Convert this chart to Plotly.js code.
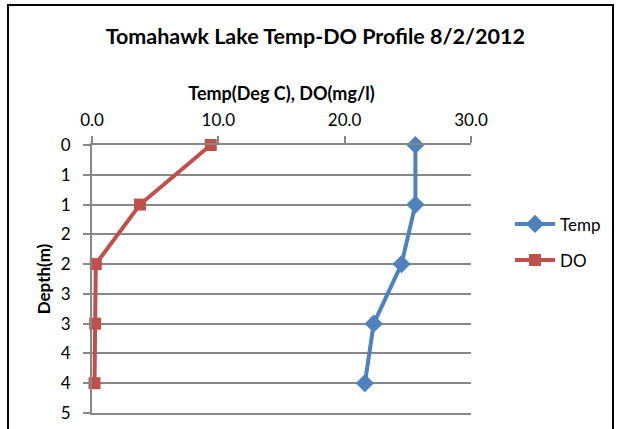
<!DOCTYPE html>
<html>
<head>
<meta charset="utf-8">
<script src="https://cdn.plot.ly/plotly-3.0.1.min.js"></script>
<style>
html,body{margin:0;padding:0;background:#fff;overflow:hidden;}
#wrap{position:relative;width:617px;height:429px;}
#chart{position:absolute;left:0;top:0;width:617px;height:429px;}
#frame{position:absolute;left:7px;top:4px;width:603px;height:440px;border:2px solid #000;pointer-events:none;}
</style>
</head>
<body>
<div id="wrap"><div id="chart"></div><div id="frame"></div></div>
<script>
const depth = [0, 1, 2, 3, 4];
const temp = [25.6, 25.6, 24.5, 22.3, 21.6];
const dissolvedO2 = [9.4, 3.8, 0.3, 0.25, 0.2];
const yTickVals = [0, 0.5, 1, 1.5, 2, 2.5, 3, 3.5, 4, 4.5];
const yTickText = ['0', '1', '1', '2', '2', '3', '3', '4', '4', '5'];
const xTickVals = [0, 10, 20, 30];
const xTickText = ['0.0', '10.0', '20.0', '30.0'];

const FONT = 'Lato, "Open Sans", sans-serif';
const GRID = '#878787';

const traces = [
  {
    x: temp, y: depth, name: 'Temp', type: 'scatter', mode: 'lines+markers',
    legendgroup: 'a', cliponaxis: false,
    line: {color: '#4F81BD', width: 4},
    marker: {symbol: 'diamond', size: 14, color: '#4F81BD'}
  },
  {
    x: dissolvedO2, y: depth, name: 'DO', type: 'scatter', mode: 'lines+markers',
    legendgroup: 'b', cliponaxis: false,
    line: {color: '#C0504D', width: 4},
    marker: {symbol: 'square', size: 12, color: '#C0504D'}
  }
];

const layout = {
  width: 617, height: 429,
  margin: {l: 92, r: 145, t: 145, b: 16, pad: 0},
  paper_bgcolor: '#fff', plot_bgcolor: '#fff',
  font: {family: FONT, color: '#000', size: 17},
  title: {
    text: '<b>Tomahawk Lake Temp-DO Profile 8/2/2012</b>',
    font: {family: FONT, size: 21.5, color: '#000'},
    x: 0.511, xanchor: 'center', xref: 'container',
    y: 0.914, yanchor: 'middle', yref: 'container'
  },
  xaxis: {
    side: 'top', range: [0, 30], tickvals: xTickVals, ticktext: xTickText,
    showgrid: false, zeroline: false,
    showline: true, mirror: true, linecolor: GRID, linewidth: 2,
    ticks: 'outside', ticklen: 7, tickwidth: 2, tickcolor: GRID,
    ticklabelstandoff: 3,
    tickfont: {family: FONT, size: 17, color: '#000'},
    title: {text: '<b>Temp(Deg C), DO(mg/l)</b>', font: {family: FONT, size: 18, color: '#000'}, standoff: 4},
    fixedrange: true
  },
  yaxis: {
    range: [4.5, 0], tickvals: yTickVals, ticktext: yTickText,
    showgrid: true, gridcolor: GRID, gridwidth: 2,
    zeroline: false, showline: true, linecolor: GRID, linewidth: 2,
    ticks: 'outside', ticklen: 7, tickwidth: 2, tickcolor: GRID,
    ticklabelstandoff: 9,
    tickfont: {family: FONT, size: 17, color: '#000'},
    title: {text: '<b>Depth(m)</b>', font: {family: FONT, size: 17, color: '#000'}, standoff: 6},
    fixedrange: true
  },
  showlegend: true,
  legend: {
    x: 1.1, xanchor: 'left', y: 0.771, yanchor: 'top',
    traceorder: 'grouped', tracegroupgap: 11,
    font: {family: FONT, size: 17, color: '#000'},
    bgcolor: 'rgba(0,0,0,0)', itemwidth: 40
  }
};

Plotly.newPlot('chart', traces, layout, {displayModeBar: false, staticPlot: true});
</script>
</body>
</html>
